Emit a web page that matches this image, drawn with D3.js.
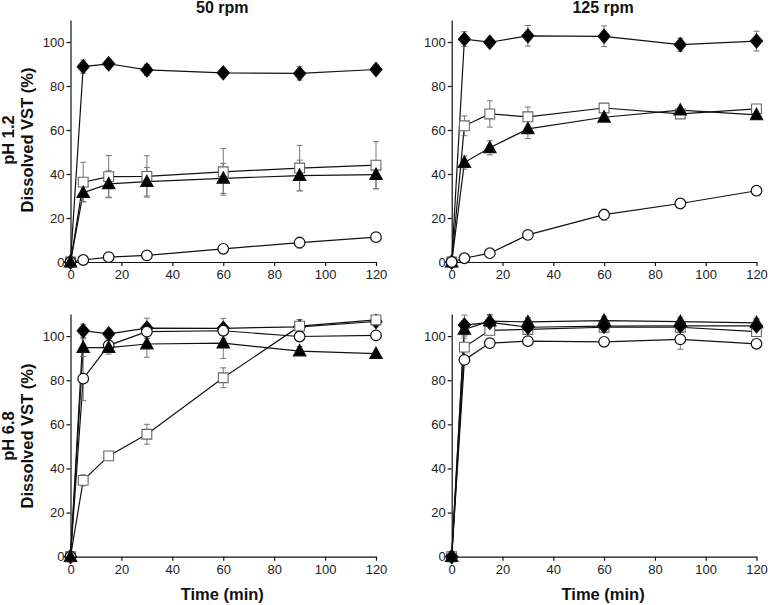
<!DOCTYPE html>
<html><head><meta charset="utf-8">
<script src="https://cdn.jsdelivr.net/npm/d3@7"></script>
<style>
body{margin:0;background:#fff;}
svg{display:block;font-family:"Liberation Sans",Arial,sans-serif;}
</style></head>
<body>
<svg id="c" width="768" height="605"></svg>
<script>
// ---- data ----
const time = [0, 5, 15, 30, 60, 90, 120];
const xTicks = [0, 20, 40, 60, 80, 100, 120];
const yTicks = [0, 20, 40, 60, 80, 100];
const colTitles = ["50 rpm", "125 rpm"];
const rowTitles = ["pH 1.2", "pH 6.8"];
const yTitle = "Dissolved VST (%)";
const xTitle = "Time (min)";

// pH 1.2, 50 rpm
const p12r50Diamond = [0, 88.8, 90.1, 87.3, 86.0, 85.7, 87.5];
const p12r50DiamondErr = [0, 3, 2, 2.5, 1, 3, 2];
const p12r50Square = [0, 36.3, 38.8, 38.9, 41.0, 42.7, 44.0];
const p12r50SquareErr = [0, 9, 9.6, 9.4, 10.6, 10.3, 10.7];
const p12r50Triangle = [0, 31.5, 35.5, 36.5, 38.0, 39.3, 39.7];
const p12r50TriangleErr = [0, 4, 6, 6.5, 6.8, 7, 6.4];
const p12r50Circle = [0, 0.9, 2.2, 3.0, 6.0, 8.8, 11.3];
const p12r50CircleErr = [0, 0.5, 0.5, 0.5, 1, 2.5, 1.5];

// pH 1.2, 125 rpm
const p12r125Diamond = [0, 101.3, 99.9, 102.8, 102.6, 98.8, 100.4];
const p12r125DiamondErr = [0, 3.4, 1, 4.7, 4.7, 3, 4.5];
const p12r125Square = [0, 61.9, 67.3, 66.0, 70.0, 67.3, 69.6];
const p12r125SquareErr = [0, 4.5, 6, 4.4, 1.5, 1, 1];
const p12r125Triangle = [0, 45.2, 51.9, 60.5, 65.8, 69.0, 66.9];
const p12r125TriangleErr = [0, 3, 3.2, 4.4, 1, 1, 1];
const p12r125Circle = [0, 1.7, 4.0, 12.3, 21.5, 26.6, 32.4];
const p12r125CircleErr = [0, 0.5, 0.5, 1, 2.5, 1, 1];

// pH 6.8, 50 rpm
const p68r50Diamond = [0, 102.4, 101.0, 103.6, 103.5, 104.2, 106.6];
const p68r50DiamondErr = [0, 3, 2, 4.5, 4.5, 2, 2];
const p68r50Square = [0, 34.6, 45.7, 55.5, 81.1, 104.5, 107.3];
const p68r50SquareErr = [0, 2.5, 1, 4.5, 4.5, 3, 2];
const p68r50Triangle = [0, 94.8, 94.8, 96.4, 96.8, 93.2, 92.0];
const p68r50TriangleErr = [0, 4, 3, 6, 7, 2, 1];
const p68r50Circle = [0, 80.7, 95.8, 102.0, 102.4, 99.8, 100.3];
const p68r50CircleErr = [0, 10, 3, 3, 2, 2, 1];

// pH 6.8, 125 rpm
const p68r125Diamond = [0, 105.0, 106.2, 104.0, 104.5, 104.6, 104.6];
const p68r125DiamondErr = [0, 4.5, 3, 3, 3, 3, 3];
const p68r125Triangle = [0, 103.0, 106.8, 106.4, 107.0, 106.5, 106.0];
const p68r125TriangleErr = [0, 4, 3, 2, 2, 2, 2];
const p68r125Square = [0, 95.0, 102.6, 103.0, 104.0, 104.0, 102.0];
const p68r125SquareErr = [0, 5, 2, 2, 2, 2, 2];
const p68r125Circle = [0, 89.2, 96.8, 97.7, 97.4, 98.5, 96.5];
const p68r125CircleErr = [0, 1, 1, 1, 1, 4.5, 1];

const panels = [
  {row:0, col:0, series:[
    {shape:"diamond", v:p12r50Diamond, e:p12r50DiamondErr},
    {shape:"square", v:p12r50Square, e:p12r50SquareErr},
    {shape:"circle", v:p12r50Circle, e:p12r50CircleErr},
    {shape:"triangle", v:p12r50Triangle, e:p12r50TriangleErr}]},
  {row:0, col:1, series:[
    {shape:"diamond", v:p12r125Diamond, e:p12r125DiamondErr},
    {shape:"square", v:p12r125Square, e:p12r125SquareErr},
    {shape:"triangle", v:p12r125Triangle, e:p12r125TriangleErr},
    {shape:"circle", v:p12r125Circle, e:p12r125CircleErr}]},
  {row:1, col:0, series:[
    {shape:"diamond", v:p68r50Diamond, e:p68r50DiamondErr},
    {shape:"square", v:p68r50Square, e:p68r50SquareErr},
    {shape:"circle", v:p68r50Circle, e:p68r50CircleErr},
    {shape:"triangle", v:p68r50Triangle, e:p68r50TriangleErr}]},
  {row:1, col:1, series:[
    {shape:"circle", v:p68r125Circle, e:p68r125CircleErr},
    {shape:"square", v:p68r125Square, e:p68r125SquareErr},
    {shape:"triangle", v:p68r125Triangle, e:p68r125TriangleErr},
    {shape:"diamond", v:p68r125Diamond, e:p68r125DiamondErr}]}
];

// ---- layout ----
const xRanges = [[70.5, 376], [451.7, 756.5]];
const yRanges = [[262, 20], [556.7, 314]];

const svg = d3.select("#c");

function markerPath(shape){
  if(shape==="diamond") return "M0,-7L6,0L0,7L-6,0Z";
  if(shape==="triangle") return "M0,-6.5L6.2,4.8L-6.2,4.8Z";
  if(shape==="square") return "M-4.9,-4.9H4.9V4.9H-4.9Z";
  return d3.symbol(d3.symbolCircle, Math.PI*5.3*5.3)();
}

panels.forEach(p=>{
  const x = d3.scaleLinear().domain([0,120]).range(xRanges[p.col]);
  const y = d3.scaleLinear().domain([0,110]).range(yRanges[p.row]);
  const g = svg.append("g");

  const ya = g.append("g").attr("transform",`translate(${x(0)},0)`)
    .call(d3.axisLeft(y).tickValues(yTicks).tickSize(4).tickSizeOuter(0));
  const xa = g.append("g").attr("transform",`translate(0,${y(0)})`)
    .call(d3.axisBottom(x).tickValues(xTicks).tickSize(4).tickSizeOuter(0));
  [ya, xa].forEach(a=>{
    a.selectAll("path,line").attr("stroke","#111").attr("stroke-width",1.2);
    a.selectAll("text").attr("font-size",13).attr("fill","#222")
      .attr("font-family","'Liberation Sans',Arial,sans-serif");
  });
  ya.selectAll("text").attr("x",-6);
  xa.selectAll("text").attr("y",8);

  const line = d3.line().x((d,i)=>x(time[i])).y(d=>y(d));
  p.series.forEach(s=>{
    g.append("path").attr("d",line(s.v)).attr("fill","none")
      .attr("stroke","#111").attr("stroke-width",1.2);
  });
  p.series.forEach(s=>{
    const eb = g.append("g").attr("stroke","#777").attr("stroke-width",1);
    s.v.forEach((v,i)=>{
      const err = s.e[i]; if(!err) return;
      const cx = x(time[i]);
      eb.append("line").attr("x1",cx).attr("x2",cx).attr("y1",y(v-err)).attr("y2",y(v+err));
      eb.append("line").attr("x1",cx-3).attr("x2",cx+3).attr("y1",y(v-err)).attr("y2",y(v-err));
      eb.append("line").attr("x1",cx-3).attr("x2",cx+3).attr("y1",y(v+err)).attr("y2",y(v+err));
    });
  });
  p.series.forEach(s=>{
    const filled = s.shape==="diamond"||s.shape==="triangle";
    g.append("g").selectAll("path").data(s.v).join("path")
      .attr("transform",(d,i)=>`translate(${x(time[i])},${y(d)})`)
      .attr("d",markerPath(s.shape))
      .attr("fill",filled?"#000":"#fff")
      .attr("stroke",s.shape==="square"?"#666":"#111")
      .attr("stroke-width",s.shape==="square"?1.1:1.2);
  });
});

// titles
colTitles.forEach((t,c)=>{
  const cx = (xRanges[c][0]+xRanges[c][1])/2 - 1;
  svg.append("text").attr("x",cx).attr("y",13).attr("text-anchor","middle")
    .attr("font-size",16).attr("font-weight","bold").attr("fill","#111").text(t);
  svg.append("text").attr("x",cx).attr("y",600).attr("text-anchor","middle")
    .attr("font-size",16.5).attr("font-weight","bold").attr("fill","#111").text(xTitle);
});
rowTitles.forEach((t,r)=>{
  const cy = r===0 ? 140 : 436;
  const gt = svg.append("text").attr("transform",`translate(0,${cy}) rotate(-90)`)
    .attr("text-anchor","middle").attr("font-size",16.5).attr("font-weight","bold").attr("fill","#111");
  gt.append("tspan").attr("x",0).attr("y",14).text(t);
  gt.append("tspan").attr("x",0).attr("y",33).text(yTitle);
});
</script>
</body></html>
